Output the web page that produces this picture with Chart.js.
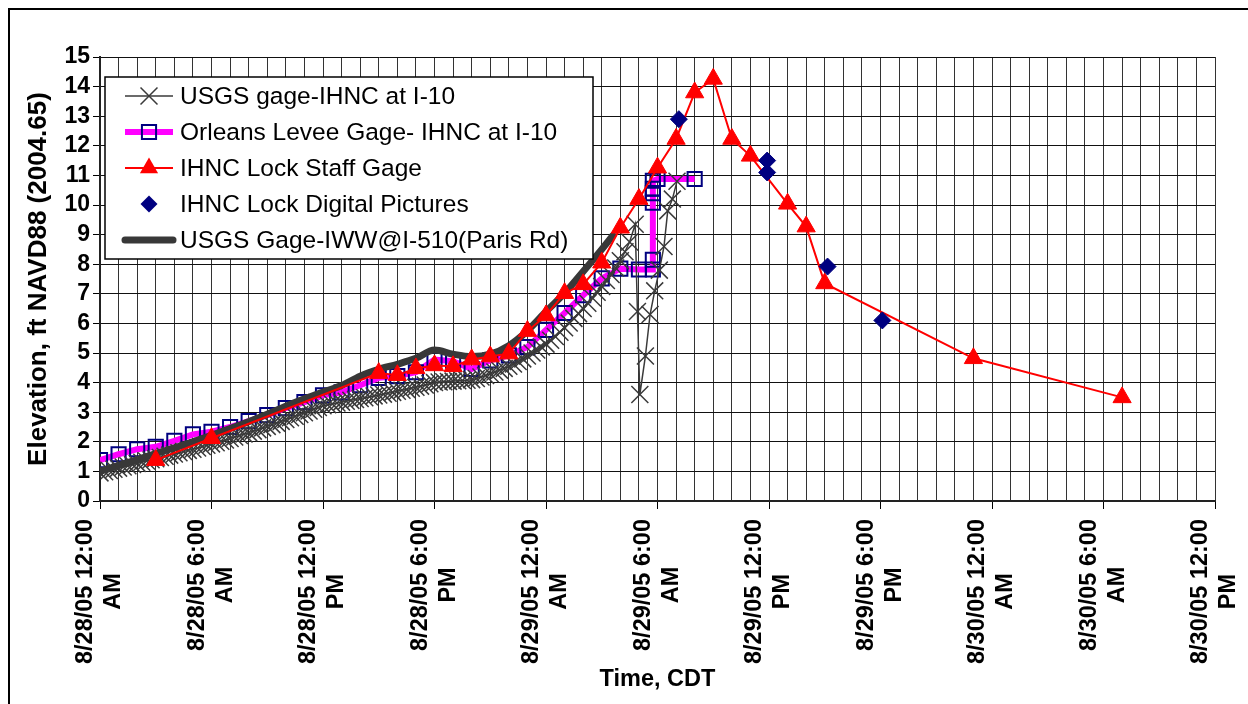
<!DOCTYPE html>
<html lang="en">
<head>
<meta charset="UTF-8" />
<title>IHNC Water Levels</title>
<script src="https://cdn.jsdelivr.net/npm/chart.js"></script>
<style>
  html, body { margin: 0; padding: 0; background: #fff; }
  .wrap { position: relative; width: 1248px; height: 704px; }
</style>
</head>
<body>
<div class="wrap"><canvas id="stageChart"></canvas></div>
<script>
  // x values are hours after 8/28/05 12:00 AM CDT
  const tickHours = [0, 6, 12, 18, 24, 30, 36, 42, 48, 54, 60];
  const tickDates = ['8/28/05 12:00', '8/28/05 6:00', '8/28/05 12:00', '8/28/05 6:00',
                     '8/29/05 12:00', '8/29/05 6:00', '8/29/05 12:00', '8/29/05 6:00',
                     '8/30/05 12:00', '8/30/05 6:00', '8/30/05 12:00'];
  const tickAmPm = ['AM', 'AM', 'PM', 'PM', 'AM', 'AM', 'PM', 'PM', 'AM', 'AM', 'PM'];

  // USGS gage-IHNC at I-10: 15 minute readings from hour 0 to hour 28.5
  const usgsI10Step = 0.25;
  const usgsI10Values = [
    0.95, 0.99, 1.03, 1.07, 1.11, 1.15, 1.19, 1.23, 1.27, 1.31, 1.35, 1.39,
    1.43, 1.47, 1.51, 1.55, 1.59, 1.63, 1.67, 1.71, 1.75, 1.79, 1.84, 1.88,
    1.93, 1.97, 2.02, 2.06, 2.11, 2.16, 2.21, 2.26, 2.31, 2.36, 2.41, 2.47,
    2.52, 2.58, 2.63, 2.69, 2.75, 2.81, 2.86, 2.92, 2.98, 3.04, 3.10, 3.16,
    3.22, 3.25, 3.28, 3.31, 3.34, 3.37, 3.40, 3.43, 3.46, 3.49, 3.52, 3.55,
    3.58, 3.61, 3.64, 3.67, 3.71, 3.74, 3.77, 3.81, 3.84, 3.88, 3.92, 3.96,
    4.00, 4.02, 4.03, 4.04, 4.05, 4.06, 4.07, 4.08, 4.10, 4.14, 4.19, 4.24,
    4.30, 4.36, 4.42, 4.48, 4.55, 4.63, 4.71, 4.80, 4.90, 5.00, 5.10, 5.20,
    5.30, 5.43, 5.56, 5.70, 5.85, 6.01, 6.17, 6.33, 6.50, 6.68, 6.86, 7.05,
    7.25, 7.45, 7.65, 7.87, 8.12, 8.42, 8.75
  ];
  const usgsI10TailHours = [28.8, 28.92, 29.05, 29.35, 29.6, 29.85, 30.1, 30.35, 30.55, 30.8, 31.05];
  const usgsI10TailValues = [9.35, 6.4, 3.6, 4.9, 6.3, 7.1, 7.8, 8.6, 9.8, 10.2, 10.8];

  // Orleans Levee Gage- IHNC at I-10
  const orleansHours = [0, 1, 2, 3, 4, 5, 6, 7, 8, 9, 10, 11, 12, 13, 14, 15, 16, 17, 18, 19,
                        20, 21, 22, 23, 24, 25, 26, 27, 28, 29,
                        29.75, 29.75, 29.75, 29.75, 29.75, 29.75, 30, 32];
  const orleansValues = [1.38, 1.58, 1.75, 1.83, 2.03, 2.25, 2.34, 2.50, 2.70, 2.90, 3.14, 3.34,
                         3.57, 3.67, 3.91, 4.16, 4.22, 4.35, 4.78, 4.72, 4.46, 4.75, 4.92, 5.20,
                         5.78, 6.35, 6.95, 7.52, 7.85, 7.82,
                         7.82, 8.15, 10.08, 10.40, 10.55, 10.82, 10.88, 10.88];

  // IHNC Lock Staff Gage
  const staffHours = [3, 6, 15, 16, 17, 18, 19, 20, 21, 22, 23, 24, 25, 26, 27, 28, 29, 30,
                      31, 32, 33, 34, 35, 37, 38, 39, 47, 55];
  const staffValues = [1.38, 2.12, 4.32, 4.25, 4.48, 4.58, 4.55, 4.78, 4.88, 4.98, 5.74, 6.27,
                       7.02, 7.32, 8.05, 9.23, 10.2, 11.26, 12.23, 13.8, 14.26, 12.23, 11.66,
                       10.04, 9.27, 7.35, 4.82, 3.5];

  // IHNC Lock Digital Pictures
  const pictureHours = [31.15, 35.9, 35.9, 39.15, 42.1];
  const pictureValues = [12.9, 11.5, 11.1, 7.92, 6.1];

  // USGS Gage-IWW@I-510(Paris Rd)
  const parisHours = [0, 1, 2, 3, 4, 5, 6, 7, 8, 9, 10, 11, 12, 13, 14, 15, 16, 17, 18, 19,
                      20, 21, 22, 23, 24, 25, 26, 27, 27.6];
  const parisValues = [1.0, 1.2, 1.4, 1.6, 1.8, 2.0, 2.22, 2.45, 2.68, 2.93, 3.2, 3.45, 3.68,
                       3.9, 4.22, 4.45, 4.62, 4.82, 5.1, 4.96, 4.88, 4.96, 5.25, 5.75, 6.4,
                       7.02, 7.75, 8.5, 8.97];

  const FONT = '"Liberation Sans", Arial, sans-serif';

  function pairs(hours, values) {
    return hours.map((h, i) => ({ x: h, y: values[i] }));
  }

  const usgsI10Points = usgsI10Values.map((v, i) => ({ x: i * usgsI10Step, y: v }))
    .concat(pairs(usgsI10TailHours, usgsI10TailValues));

  // draws a marker with the same geometry Chart.js uses
  function drawMarker(ctx, style, x, y, r) {
    ctx.beginPath();
    if (style === 'crossRot') {
      const o = r * Math.SQRT1_2;
      ctx.moveTo(x - o, y - o); ctx.lineTo(x + o, y + o);
      ctx.moveTo(x - o, y + o); ctx.lineTo(x + o, y - o);
      ctx.stroke();
    } else if (style === 'rect') {
      const s = r * Math.SQRT1_2;
      ctx.rect(x - s, y - s, 2 * s, 2 * s);
      ctx.stroke();
    } else if (style === 'triangle') {
      ctx.moveTo(x, y - r);
      ctx.lineTo(x + r * Math.sin(2 * Math.PI / 3), y - r * Math.cos(2 * Math.PI / 3));
      ctx.lineTo(x + r * Math.sin(4 * Math.PI / 3), y - r * Math.cos(4 * Math.PI / 3));
      ctx.closePath();
      ctx.fill();
    } else if (style === 'rectRot') {
      ctx.moveTo(x - r, y); ctx.lineTo(x, y - r); ctx.lineTo(x + r, y); ctx.lineTo(x, y + r);
      ctx.closePath();
      ctx.fill();
    }
  }

  const framePlugin = {
    id: 'frame',
    beforeDraw(chart) {
      const ctx = chart.ctx;
      ctx.save();
      ctx.fillStyle = '#fff';
      ctx.fillRect(0, 0, chart.width, chart.height);
      ctx.strokeStyle = '#000';
      ctx.lineWidth = 2;
      ctx.strokeRect(9, 9, chart.width + 20, chart.height + 20);
      ctx.restore();
    }
  };

  // two-line rotated date labels under the time axis
  const timeLabelPlugin = {
    id: 'timeLabels',
    afterDraw(chart) {
      const ctx = chart.ctx, xs = chart.scales.x;
      ctx.save();
      ctx.font = 'bold 23.5px ' + FONT;
      ctx.fillStyle = '#000';
      ctx.textAlign = 'center';
      ctx.textBaseline = 'middle';
      tickHours.forEach((h, i) => {
        const px = xs.getPixelForValue(h);
        const w = ctx.measureText(tickDates[i]).width;
        ctx.save();
        ctx.translate(px, xs.top + 18 + w / 2);
        ctx.rotate(-Math.PI / 2);
        ctx.fillText(tickDates[i], 0, -14);
        ctx.fillText(tickAmPm[i], 0, 14);
        ctx.restore();
      });
      ctx.restore();
    }
  };

  const legendOrder = [0, 1, 2, 3, 4];
  const boxLegendPlugin = {
    id: 'boxLegend',
    afterDraw(chart) {
      const ctx = chart.ctx, a = chart.chartArea;
      const x0 = a.left + 5, y0 = a.top + 20, w = 488, h = 182;
      ctx.save();
      ctx.fillStyle = '#fff';
      ctx.fillRect(x0, y0, w, h);
      ctx.strokeStyle = '#000';
      ctx.lineWidth = 1.5;
      ctx.strokeRect(x0, y0, w, h);
      ctx.font = '24.5px ' + FONT;
      ctx.textBaseline = 'middle';
      legendOrder.forEach((di, row) => {
        const ds = chart.data.datasets[di];
        const cy = y0 + 19 + row * 36;
        const sx = x0 + 20, ex = x0 + 68, mx = (sx + ex) / 2;
        if (ds.showLine) {
          ctx.beginPath();
          ctx.lineCap = ds.borderCapStyle || 'butt';
          ctx.strokeStyle = ds.borderColor;
          ctx.lineWidth = ds.borderWidth;
          ctx.moveTo(sx, cy); ctx.lineTo(ex, cy);
          ctx.stroke();
          ctx.lineCap = 'butt';
        }
        if (ds.pointRadius > 0) {
          ctx.strokeStyle = ds.pointBorderColor;
          ctx.fillStyle = ds.pointBackgroundColor;
          ctx.lineWidth = ds.pointBorderWidth;
          drawMarker(ctx, ds.pointStyle, mx, cy, ds.pointRadius);
        }
        ctx.fillStyle = '#000';
        ctx.fillText(ds.label, x0 + 75, cy + 1);
      });
      ctx.restore();
    }
  };

  new Chart(document.getElementById('stageChart'), {
    type: 'scatter',
    data: {
      datasets: [
        {
          label: 'USGS gage-IHNC at I-10',
          data: usgsI10Points,
          showLine: true,
          borderColor: '#3a3a3a',
          borderWidth: 1.5,
          pointStyle: 'crossRot',
          pointRadius: 12,
          pointBorderColor: '#3a3a3a',
          pointBackgroundColor: '#3a3a3a',
          pointBorderWidth: 1.5,
          order: 4
        },
        {
          label: 'Orleans Levee Gage- IHNC at I-10',
          data: pairs(orleansHours, orleansValues),
          showLine: true,
          borderColor: '#ff00ff',
          borderWidth: 6,
          pointStyle: 'rect',
          pointRadius: 10,
          pointBorderColor: '#000080',
          pointBackgroundColor: 'rgba(0,0,0,0)',
          pointBorderWidth: 2,
          order: 5
        },
        {
          label: 'IHNC Lock Staff Gage',
          data: pairs(staffHours, staffValues),
          showLine: true,
          borderColor: '#ff0000',
          borderWidth: 2,
          pointStyle: 'triangle',
          pointRadius: 10.5,
          pointBorderColor: '#ff0000',
          pointBackgroundColor: '#ff0000',
          pointBorderWidth: 1,
          order: 2
        },
        {
          label: 'IHNC Lock Digital Pictures',
          data: pairs(pictureHours, pictureValues),
          showLine: false,
          pointStyle: 'rectRot',
          pointRadius: 8.5,
          pointBorderColor: '#000080',
          pointBackgroundColor: '#000080',
          pointBorderWidth: 1,
          order: 1
        },
        {
          label: 'USGS Gage-IWW@I-510(Paris Rd)',
          data: pairs(parisHours, parisValues),
          showLine: true,
          borderColor: '#383838',
          borderWidth: 7,
          borderCapStyle: 'round',
          borderJoinStyle: 'round',
          cubicInterpolationMode: 'monotone',
          pointRadius: 0,
          order: 3
        }
      ]
    },
    options: {
      responsive: true,
      maintainAspectRatio: false,
      animation: false,
      devicePixelRatio: 1,
      layout: { padding: { left: 10, top: 57, right: 33, bottom: 0 } },
      plugins: {
        legend: { display: false },
        tooltip: { enabled: false }
      },
      scales: {
        x: {
          type: 'linear',
          min: 0,
          max: 60,
          ticks: { stepSize: 1, autoSkip: false, display: false },
          grid: {
            color: '#333',
            lineWidth: 1,
            tickLength: 8,
            tickColor: (c) => (c.tick && c.tick.value % 6 === 0) ? '#000' : 'rgba(0,0,0,0)'
          },
          border: { color: '#222', width: 2 },
          title: {
            display: true,
            text: 'Time, CDT',
            color: '#000',
            font: { family: FONT, size: 23.5, weight: 'bold' },
            padding: { top: 0, bottom: 10 }
          },
          afterFit: (s) => { s.height = 203; }
        },
        y: {
          min: 0,
          max: 15,
          ticks: {
            stepSize: 1,
            autoSkip: false,
            color: '#000',
            padding: 3,
            font: { family: FONT, size: 23, weight: 'bold' }
          },
          grid: { color: '#111', lineWidth: 1, tickLength: 7, tickColor: '#000' },
          border: { color: '#222', width: 2 },
          title: {
            display: true,
            text: 'Elevation, ft NAVD88 (2004.65)',
            color: '#000',
            font: { family: FONT, size: 26, weight: 'bold' },
            padding: { top: 13, bottom: 0 }
          },
          afterFit: (s) => { s.width = 90; }
        }
      }
    },
    plugins: [framePlugin, timeLabelPlugin, boxLegendPlugin]
  });
</script>
</body>
</html>
